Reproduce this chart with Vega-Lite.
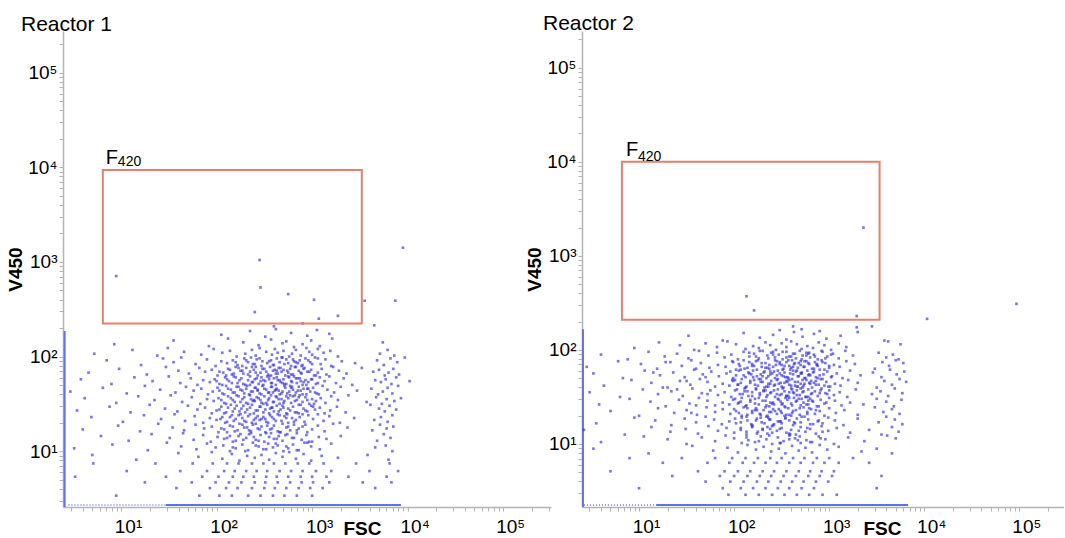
{
"$schema": "https://vega.github.io/schema/vega-lite/v6.json",
"padding": {"left": 6, "top": 13, "right": 0, "bottom": 0},
"bounds": "flush",
"spacing": 31,
"config": {
  "view": {"stroke": null},
  "font": "Liberation Sans",
  "axis": {"grid": false, "domainColor": "#b4b4b4", "domainWidth": 1.5, "tickColor": "#b4b4b4", "tickSize": 4, "labelColor": "#000000", "labelFont": "Liberation Sans", "labelFontSize": 19, "labelOverlap": false, "labelFlush": false, "titleFont": "Liberation Sans", "titleFontSize": 19, "titleFontWeight": "bold", "titleColor": "#000000"},
  "title": {"font": "Liberation Sans", "fontSize": 21, "fontWeight": "normal", "color": "#000000", "anchor": "start", "frame": "group", "offset": 0, "baseline": "alphabetic", "dy": 8}
},
"datasets": {
"g1": [{"x": 0.81, "x2": 3.52, "y": 3.97, "y2": 2.35}],
"g2": [{"x": 0.82, "x2": 3.53, "y": 4.0, "y2": 2.32}],
"l1": [{"x": 1.47, "x2": 3.93, "y": 0.43, "y2": 0.43, "k": "dense"}, {"x": 0.45, "x2": 1.47, "y": 0.43, "y2": 0.43, "k": "sparse"}, {"x": 0.41, "x2": 0.41, "y": 0.41, "y2": 2.27, "k": "dense"}],
"l2": [{"x": 1.18, "x2": 3.83, "y": 0.35, "y2": 0.35, "k": "dense"}, {"x": 0.42, "x2": 1.18, "y": 0.35, "y2": 0.35, "k": "sparse"}, {"x": 0.41, "x2": 0.41, "y": 0.33, "y2": 2.22, "k": "dense"}],
"p1": [
{"x":2.05,"y":2.23},{"x":2.35,"y":2.27},{"x":2.51,"y":2.21},{"x":2.62,"y":2.29},{"x":2.78,"y":2.25},{"x":2.95,"y":2.22},{"x":3.05,"y":2.28},{"x":3.18,"y":2.24},
{"x":0.93,"y":2.13},{"x":1.55,"y":2.17},{"x":1.92,"y":2.11},{"x":2.12,"y":2.19},{"x":2.28,"y":2.15},{"x":2.44,"y":2.12},{"x":2.57,"y":2.18},{"x":2.69,"y":2.14},{"x":2.73,"y":2.16},{"x":2.81,"y":2.1},{"x":2.9,"y":2.13},{"x":2.99,"y":2.17},{"x":3.08,"y":2.11},{"x":3.21,"y":2.19},{"x":3.74,"y":2.15},
{"x":0.72,"y":2.03},{"x":1.12,"y":2.07},{"x":1.38,"y":2.01},{"x":1.49,"y":2.09},{"x":1.66,"y":2.05},{"x":1.84,"y":2.02},{"x":1.97,"y":2.08},{"x":2.06,"y":2.04},{"x":2.14,"y":2.06},{"x":2.21,"y":2.0},{"x":2.3,"y":2.03},{"x":2.37,"y":2.07},{"x":2.41,"y":2.01},{"x":2.45,"y":2.09},{"x":2.52,"y":2.05},{"x":2.58,"y":2.02},{"x":2.61,"y":2.08},{"x":2.64,"y":2.04},{"x":2.7,"y":2.06},{"x":2.76,"y":2.0},{"x":2.79,"y":2.03},{"x":2.83,"y":2.07},{"x":2.88,"y":2.01},{"x":2.94,"y":2.09},{"x":2.97,"y":2.05},{"x":3.0,"y":2.02},{"x":3.06,"y":2.08},{"x":3.12,"y":2.04},{"x":3.19,"y":2.06},{"x":3.27,"y":2.0},{"x":3.71,"y":2.03},{"x":3.79,"y":2.07},{"x":3.86,"y":2.01},
{"x":0.85,"y":1.96},{"x":1.21,"y":1.91},{"x":1.44,"y":1.98},{"x":1.55,"y":1.94},{"x":1.63,"y":1.99},{"x":1.78,"y":1.92},{"x":1.9,"y":1.97},{"x":1.99,"y":1.9},{"x":2.05,"y":1.95},{"x":2.11,"y":1.93},
{"x":2.17,"y":1.96},{"x":2.22,"y":1.91},{"x":2.29,"y":1.98},{"x":2.33,"y":1.94},{"x":2.36,"y":1.99},{"x":2.38,"y":1.92},{"x":2.42,"y":1.97},{"x":2.47,"y":1.9},{"x":2.48,"y":1.95},{"x":2.53,"y":1.93},
{"x":2.57,"y":1.96},{"x":2.6,"y":1.91},{"x":2.63,"y":1.98},{"x":2.66,"y":1.94},{"x":2.69,"y":1.99},{"x":2.71,"y":1.92},{"x":2.73,"y":1.97},{"x":2.78,"y":1.9},{"x":2.81,"y":1.95},{"x":2.85,"y":1.93},
{"x":2.87,"y":1.96},{"x":2.9,"y":1.91},{"x":2.93,"y":1.98},{"x":2.98,"y":1.94},{"x":3.03,"y":1.99},{"x":3.09,"y":1.92},{"x":3.14,"y":1.97},{"x":3.2,"y":1.9},{"x":3.31,"y":1.95},{"x":3.45,"y":1.93},
{"x":3.68,"y":1.96},{"x":3.75,"y":1.91},{"x":3.82,"y":1.98},{"x":3.89,"y":1.94},{"x":3.97,"y":1.99},
{"x":0.66,"y":1.83},{"x":0.98,"y":1.87},{"x":1.27,"y":1.81},{"x":1.47,"y":1.89},{"x":1.6,"y":1.85},{"x":1.71,"y":1.82},{"x":1.82,"y":1.88},{"x":1.88,"y":1.84},{"x":1.95,"y":1.86},{"x":2.01,"y":1.8},
{"x":2.07,"y":1.83},{"x":2.12,"y":1.87},{"x":2.16,"y":1.81},{"x":2.2,"y":1.89},{"x":2.25,"y":1.85},{"x":2.28,"y":1.82},{"x":2.31,"y":1.88},{"x":2.35,"y":1.84},{"x":2.39,"y":1.86},{"x":2.43,"y":1.8},
{"x":2.46,"y":1.83},{"x":2.5,"y":1.87},{"x":2.54,"y":1.81},{"x":2.56,"y":1.89},{"x":2.59,"y":1.85},{"x":2.62,"y":1.82},{"x":2.65,"y":1.88},{"x":2.68,"y":1.84},{"x":2.7,"y":1.86},{"x":2.72,"y":1.8},
{"x":2.75,"y":1.83},{"x":2.77,"y":1.87},{"x":2.8,"y":1.81},{"x":2.83,"y":1.89},{"x":2.86,"y":1.85},{"x":2.89,"y":1.82},{"x":2.92,"y":1.88},{"x":2.95,"y":1.84},{"x":2.99,"y":1.86},{"x":3.02,"y":1.8},
{"x":3.06,"y":1.83},{"x":3.1,"y":1.87},{"x":3.15,"y":1.81},{"x":3.22,"y":1.89},{"x":3.28,"y":1.85},{"x":3.36,"y":1.82},{"x":3.52,"y":1.88},{"x":3.64,"y":1.84},{"x":3.7,"y":1.86},{"x":3.76,"y":1.8},
{"x":3.8,"y":1.83},{"x":3.85,"y":1.87},{"x":3.91,"y":1.81},{"x":2.41,"y":1.89},{"x":2.63,"y":1.85},
{"x":0.58,"y":1.76},{"x":0.9,"y":1.71},{"x":1.14,"y":1.78},{"x":1.33,"y":1.74},{"x":1.5,"y":1.79},{"x":1.62,"y":1.72},{"x":1.73,"y":1.77},{"x":1.8,"y":1.7},{"x":1.86,"y":1.75},{"x":1.93,"y":1.73},
{"x":1.98,"y":1.76},{"x":2.03,"y":1.71},{"x":2.09,"y":1.78},{"x":2.13,"y":1.74},{"x":2.18,"y":1.79},{"x":2.22,"y":1.72},{"x":2.26,"y":1.77},{"x":2.3,"y":1.7},{"x":2.33,"y":1.75},{"x":2.37,"y":1.73},
{"x":2.4,"y":1.76},{"x":2.44,"y":1.71},{"x":2.47,"y":1.78},{"x":2.51,"y":1.74},{"x":2.53,"y":1.79},{"x":2.57,"y":1.72},{"x":2.6,"y":1.77},{"x":2.62,"y":1.7},{"x":2.64,"y":1.75},{"x":2.67,"y":1.73},
{"x":2.7,"y":1.76},{"x":2.73,"y":1.71},{"x":2.76,"y":1.78},{"x":2.78,"y":1.74},{"x":2.81,"y":1.79},{"x":2.84,"y":1.72},{"x":2.87,"y":1.77},{"x":2.9,"y":1.7},{"x":2.93,"y":1.75},{"x":2.96,"y":1.73},
{"x":3.0,"y":1.76},{"x":3.04,"y":1.71},{"x":3.08,"y":1.78},{"x":3.13,"y":1.74},{"x":3.18,"y":1.79},{"x":3.25,"y":1.72},{"x":3.33,"y":1.77},{"x":3.42,"y":1.7},{"x":3.66,"y":1.75},{"x":3.72,"y":1.73},
{"x":3.77,"y":1.76},{"x":3.83,"y":1.71},{"x":3.88,"y":1.78},{"x":4.02,"y":1.74},{"x":2.55,"y":1.79},{"x":2.69,"y":1.72},{"x":2.85,"y":1.77},{"x":2.35,"y":1.7},{"x":2.49,"y":1.75},{"x":2.91,"y":1.73},
{"x":0.47,"y":1.63},{"x":0.81,"y":1.67},{"x":1.06,"y":1.61},{"x":1.25,"y":1.69},{"x":1.41,"y":1.65},{"x":1.57,"y":1.62},{"x":1.68,"y":1.68},{"x":1.76,"y":1.64},{"x":1.84,"y":1.66},{"x":1.91,"y":1.6},
{"x":1.96,"y":1.63},{"x":2.01,"y":1.67},{"x":2.06,"y":1.61},{"x":2.1,"y":1.69},{"x":2.15,"y":1.65},{"x":2.19,"y":1.62},{"x":2.23,"y":1.68},{"x":2.27,"y":1.64},{"x":2.31,"y":1.66},{"x":2.34,"y":1.6},
{"x":2.38,"y":1.63},{"x":2.41,"y":1.67},{"x":2.45,"y":1.61},{"x":2.48,"y":1.69},{"x":2.52,"y":1.65},{"x":2.55,"y":1.62},{"x":2.58,"y":1.68},{"x":2.61,"y":1.64},{"x":2.63,"y":1.66},{"x":2.66,"y":1.6},
{"x":2.69,"y":1.63},{"x":2.72,"y":1.67},{"x":2.74,"y":1.61},{"x":2.77,"y":1.69},{"x":2.8,"y":1.65},{"x":2.83,"y":1.62},{"x":2.86,"y":1.68},{"x":2.88,"y":1.64},{"x":2.91,"y":1.66},{"x":2.94,"y":1.6},
{"x":2.98,"y":1.63},{"x":3.01,"y":1.67},{"x":3.05,"y":1.61},{"x":3.11,"y":1.69},{"x":3.16,"y":1.65},{"x":3.23,"y":1.62},{"x":3.3,"y":1.68},{"x":3.47,"y":1.64},{"x":3.62,"y":1.66},{"x":3.69,"y":1.6},
{"x":3.74,"y":1.63},{"x":3.79,"y":1.67},{"x":3.84,"y":1.61},{"x":3.9,"y":1.69},{"x":2.43,"y":1.65},{"x":2.59,"y":1.62},{"x":2.79,"y":1.68},{"x":2.65,"y":1.64},{"x":2.96,"y":1.66},{"x":3.07,"y":1.6},
{"x":0.62,"y":1.56},{"x":0.95,"y":1.51},{"x":1.18,"y":1.58},{"x":1.35,"y":1.54},{"x":1.52,"y":1.59},{"x":1.64,"y":1.52},{"x":1.74,"y":1.57},{"x":1.83,"y":1.5},{"x":1.9,"y":1.55},{"x":1.97,"y":1.53},
{"x":2.02,"y":1.56},{"x":2.08,"y":1.51},{"x":2.12,"y":1.58},{"x":2.17,"y":1.54},{"x":2.21,"y":1.59},{"x":2.25,"y":1.52},{"x":2.29,"y":1.57},{"x":2.33,"y":1.5},{"x":2.36,"y":1.55},{"x":2.4,"y":1.53},
{"x":2.44,"y":1.56},{"x":2.47,"y":1.51},{"x":2.5,"y":1.58},{"x":2.54,"y":1.54},{"x":2.57,"y":1.59},{"x":2.6,"y":1.52},{"x":2.63,"y":1.57},{"x":2.66,"y":1.5},{"x":2.68,"y":1.55},{"x":2.71,"y":1.53},
{"x":2.75,"y":1.56},{"x":2.78,"y":1.51},{"x":2.8,"y":1.58},{"x":2.84,"y":1.54},{"x":2.87,"y":1.59},{"x":2.9,"y":1.52},{"x":2.93,"y":1.57},{"x":2.97,"y":1.5},{"x":3.0,"y":1.55},{"x":3.04,"y":1.53},
{"x":3.09,"y":1.56},{"x":3.14,"y":1.51},{"x":3.2,"y":1.58},{"x":3.27,"y":1.54},{"x":3.38,"y":1.59},{"x":3.57,"y":1.52},{"x":3.67,"y":1.57},{"x":3.73,"y":1.5},{"x":3.78,"y":1.55},{"x":3.86,"y":1.53},
{"x":3.93,"y":1.56},{"x":2.52,"y":1.51},{"x":2.73,"y":1.58},{"x":2.39,"y":1.54},{"x":2.82,"y":1.59},
{"x":0.54,"y":1.43},{"x":0.88,"y":1.47},{"x":1.1,"y":1.41},{"x":1.3,"y":1.49},{"x":1.46,"y":1.45},{"x":1.59,"y":1.42},{"x":1.7,"y":1.48},{"x":1.8,"y":1.44},{"x":1.88,"y":1.46},{"x":1.95,"y":1.4},
{"x":2.0,"y":1.43},{"x":2.05,"y":1.47},{"x":2.1,"y":1.41},{"x":2.15,"y":1.49},{"x":2.19,"y":1.45},{"x":2.24,"y":1.42},{"x":2.28,"y":1.48},{"x":2.32,"y":1.44},{"x":2.35,"y":1.46},{"x":2.39,"y":1.4},
{"x":2.43,"y":1.43},{"x":2.46,"y":1.47},{"x":2.49,"y":1.41},{"x":2.53,"y":1.49},{"x":2.56,"y":1.45},{"x":2.6,"y":1.42},{"x":2.63,"y":1.48},{"x":2.67,"y":1.44},{"x":2.7,"y":1.46},{"x":2.73,"y":1.4},
{"x":2.77,"y":1.43},{"x":2.8,"y":1.47},{"x":2.84,"y":1.41},{"x":2.88,"y":1.49},{"x":2.91,"y":1.45},{"x":2.95,"y":1.42},{"x":2.99,"y":1.48},{"x":3.03,"y":1.44},{"x":3.08,"y":1.46},{"x":3.13,"y":1.4},
{"x":3.19,"y":1.43},{"x":3.26,"y":1.47},{"x":3.35,"y":1.41},{"x":3.61,"y":1.49},{"x":3.7,"y":1.45},{"x":3.76,"y":1.42},{"x":3.81,"y":1.48},{"x":3.88,"y":1.44},{"x":2.58,"y":1.46},{"x":2.86,"y":1.4},
{"x":0.69,"y":1.36},{"x":1.02,"y":1.31},{"x":1.24,"y":1.38},{"x":1.42,"y":1.34},{"x":1.56,"y":1.39},{"x":1.67,"y":1.32},{"x":1.77,"y":1.37},{"x":1.86,"y":1.3},{"x":1.93,"y":1.35},{"x":2.0,"y":1.33},
{"x":2.06,"y":1.36},{"x":2.11,"y":1.31},{"x":2.16,"y":1.38},{"x":2.2,"y":1.34},{"x":2.25,"y":1.39},{"x":2.29,"y":1.32},{"x":2.33,"y":1.37},{"x":2.37,"y":1.3},{"x":2.41,"y":1.35},{"x":2.45,"y":1.33},
{"x":2.49,"y":1.36},{"x":2.52,"y":1.31},{"x":2.56,"y":1.38},{"x":2.6,"y":1.34},{"x":2.64,"y":1.39},{"x":2.68,"y":1.32},{"x":2.71,"y":1.37},{"x":2.75,"y":1.3},{"x":2.79,"y":1.35},{"x":2.83,"y":1.33},
{"x":2.87,"y":1.36},{"x":2.92,"y":1.31},{"x":2.96,"y":1.38},{"x":3.01,"y":1.34},{"x":3.06,"y":1.39},{"x":3.12,"y":1.32},{"x":3.18,"y":1.37},{"x":3.29,"y":1.3},{"x":3.44,"y":1.35},{"x":3.65,"y":1.33},
{"x":3.72,"y":1.36},{"x":3.79,"y":1.31},{"x":3.84,"y":1.38},{"x":2.47,"y":1.34},{"x":2.74,"y":1.39},
{"x":0.6,"y":1.23},{"x":0.97,"y":1.27},{"x":1.2,"y":1.21},{"x":1.39,"y":1.29},{"x":1.54,"y":1.25},{"x":1.66,"y":1.22},{"x":1.78,"y":1.28},{"x":1.87,"y":1.24},{"x":1.95,"y":1.26},{"x":2.02,"y":1.2},
{"x":2.08,"y":1.23},{"x":2.14,"y":1.27},{"x":2.19,"y":1.21},{"x":2.24,"y":1.29},{"x":2.29,"y":1.25},{"x":2.34,"y":1.22},{"x":2.38,"y":1.28},{"x":2.43,"y":1.24},{"x":2.47,"y":1.26},{"x":2.51,"y":1.2},
{"x":2.56,"y":1.23},{"x":2.6,"y":1.27},{"x":2.64,"y":1.21},{"x":2.69,"y":1.29},{"x":2.73,"y":1.25},{"x":2.77,"y":1.22},{"x":2.81,"y":1.28},{"x":2.86,"y":1.24},{"x":2.9,"y":1.26},{"x":2.95,"y":1.2},
{"x":3.0,"y":1.23},{"x":3.06,"y":1.27},{"x":3.13,"y":1.21},{"x":3.22,"y":1.29},{"x":3.37,"y":1.25},{"x":3.63,"y":1.22},{"x":3.71,"y":1.28},{"x":3.78,"y":1.24},{"x":3.85,"y":1.26},{"x":2.66,"y":1.2},
{"x":0.79,"y":1.16},{"x":1.08,"y":1.11},{"x":1.32,"y":1.18},{"x":1.51,"y":1.14},{"x":1.65,"y":1.19},{"x":1.76,"y":1.12},{"x":1.86,"y":1.17},{"x":1.94,"y":1.1},{"x":2.01,"y":1.15},{"x":2.08,"y":1.13},
{"x":2.14,"y":1.16},{"x":2.2,"y":1.11},{"x":2.25,"y":1.18},{"x":2.31,"y":1.14},{"x":2.36,"y":1.19},{"x":2.41,"y":1.12},{"x":2.46,"y":1.17},{"x":2.5,"y":1.1},{"x":2.55,"y":1.15},{"x":2.6,"y":1.13},
{"x":2.65,"y":1.16},{"x":2.69,"y":1.11},{"x":2.74,"y":1.18},{"x":2.79,"y":1.14},{"x":2.84,"y":1.19},{"x":2.89,"y":1.12},{"x":2.94,"y":1.17},{"x":3.0,"y":1.1},{"x":3.07,"y":1.15},{"x":3.15,"y":1.13},
{"x":3.3,"y":1.16},{"x":3.68,"y":1.11},{"x":3.75,"y":1.18},{"x":3.82,"y":1.14},{"x":2.57,"y":1.19},
{"x":0.51,"y":1.03},{"x":0.91,"y":1.07},{"x":1.28,"y":1.01},{"x":1.48,"y":1.09},{"x":1.63,"y":1.05},{"x":1.79,"y":1.02},{"x":1.9,"y":1.08},{"x":1.99,"y":1.04},{"x":2.07,"y":1.06},{"x":2.14,"y":1.0},
{"x":2.2,"y":1.03},{"x":2.27,"y":1.07},{"x":2.33,"y":1.01},{"x":2.38,"y":1.09},{"x":2.44,"y":1.05},{"x":2.49,"y":1.02},{"x":2.54,"y":1.08},{"x":2.59,"y":1.04},{"x":2.64,"y":1.06},{"x":2.7,"y":1.0},
{"x":2.75,"y":1.03},{"x":2.8,"y":1.07},{"x":2.86,"y":1.01},{"x":2.92,"y":1.09},{"x":2.99,"y":1.05},{"x":3.08,"y":1.02},{"x":3.2,"y":1.08},{"x":3.66,"y":1.04},{"x":3.77,"y":1.06},{"x":3.84,"y":1.0},
{"x":0.7,"y":0.96},{"x":1.16,"y":0.91},{"x":1.6,"y":0.98},{"x":1.81,"y":0.94},{"x":1.95,"y":0.99},{"x":2.06,"y":0.92},{"x":2.16,"y":0.97},{"x":2.24,"y":0.9},{"x":2.32,"y":0.95},{"x":2.4,"y":0.93},
{"x":2.47,"y":0.96},{"x":2.55,"y":0.91},{"x":2.62,"y":0.98},{"x":2.69,"y":0.94},{"x":2.76,"y":0.99},{"x":2.83,"y":0.92},{"x":2.91,"y":0.97},{"x":2.99,"y":0.9},{"x":3.1,"y":0.95},{"x":3.27,"y":0.93},
{"x":3.58,"y":0.96},{"x":3.8,"y":0.91},
{"x":0.71,"y":0.87},{"x":1.36,"y":0.87},{"x":1.75,"y":0.87},{"x":1.96,"y":0.87},{"x":2.11,"y":0.87},{"x":2.23,"y":0.87},{"x":2.37,"y":0.87},{"x":2.49,"y":0.87},{"x":2.6,"y":0.87},{"x":2.72,"y":0.87},{"x":2.85,"y":0.87},{"x":2.97,"y":0.87},{"x":3.12,"y":0.87},{"x":3.46,"y":0.87},{"x":3.81,"y":0.87},
{"x":1.06,"y":0.79},{"x":1.62,"y":0.79},{"x":1.9,"y":0.79},{"x":2.08,"y":0.79},{"x":2.19,"y":0.79},{"x":2.31,"y":0.79},{"x":2.42,"y":0.79},{"x":2.53,"y":0.79},{"x":2.66,"y":0.79},{"x":2.78,"y":0.79},{"x":2.9,"y":0.79},{"x":3.04,"y":0.79},{"x":3.2,"y":0.79},{"x":3.6,"y":0.79},{"x":3.9,"y":0.79},
{"x":0.52,"y":0.73},{"x":1.47,"y":0.73},{"x":1.85,"y":0.73},{"x":2.02,"y":0.73},{"x":2.17,"y":0.73},{"x":2.28,"y":0.73},{"x":2.39,"y":0.73},{"x":2.52,"y":0.73},{"x":2.63,"y":0.73},{"x":2.75,"y":0.73},{"x":2.88,"y":0.73},{"x":3.0,"y":0.73},{"x":3.15,"y":0.73},{"x":3.38,"y":0.73},{"x":3.78,"y":0.73},
{"x":1.25,"y":0.67},{"x":1.74,"y":0.67},{"x":1.99,"y":0.67},{"x":2.13,"y":0.67},{"x":2.26,"y":0.67},{"x":2.4,"y":0.67},{"x":2.51,"y":0.67},{"x":2.64,"y":0.67},{"x":2.77,"y":0.67},{"x":2.89,"y":0.67},{"x":3.01,"y":0.67},{"x":3.18,"y":0.67},{"x":3.53,"y":0.67},{"x":3.83,"y":0.67},
{"x":1.58,"y":0.61},{"x":1.93,"y":0.61},{"x":2.1,"y":0.61},{"x":2.22,"y":0.61},{"x":2.37,"y":0.61},{"x":2.5,"y":0.61},{"x":2.61,"y":0.61},{"x":2.73,"y":0.61},{"x":2.86,"y":0.61},{"x":2.98,"y":0.61},{"x":3.11,"y":0.61},{"x":3.66,"y":0.61},
{"x":0.95,"y":0.53},{"x":1.82,"y":0.53},{"x":2.03,"y":0.53},{"x":2.16,"y":0.53},{"x":2.33,"y":0.53},{"x":2.46,"y":0.53},{"x":2.59,"y":0.53},{"x":2.71,"y":0.53},{"x":2.84,"y":0.53},{"x":3.0,"y":0.53},
{"x":0.95,"y":2.85},{"x":2.46,"y":2.73},{"x":2.75,"y":2.66},{"x":3.02,"y":2.6},{"x":2.4,"y":2.47},{"x":3.27,"y":2.43},{"x":3.07,"y":2.4},{"x":3.55,"y":2.59},{"x":3.87,"y":2.59},{"x":3.65,"y":2.33},{"x":2.45,"y":3.02},{"x":3.95,"y":3.15},{"x":2.6,"y":2.32},{"x":2.9,"y":2.35},
{"x":2.2,"y":1.94},{"x":2.27,"y":1.9},{"x":2.31,"y":1.96},{"x":2.4,"y":1.92},{"x":2.45,"y":1.98},{"x":2.55,"y":1.95},{"x":2.59,"y":1.91},{"x":2.68,"y":1.99},{"x":2.75,"y":1.93},{"x":2.8,"y":1.97},{"x":2.83,"y":1.94},{"x":2.89,"y":1.9},{"x":2.96,"y":1.96},{"x":3.0,"y":1.92},{"x":3.06,"y":1.98},
{"x":2.03,"y":1.84},{"x":2.1,"y":1.8},{"x":2.14,"y":1.86},{"x":2.18,"y":1.82},{"x":2.23,"y":1.88},{"x":2.27,"y":1.85},{"x":2.33,"y":1.81},{"x":2.37,"y":1.89},{"x":2.41,"y":1.83},{"x":2.48,"y":1.87},{"x":2.52,"y":1.84},{"x":2.57,"y":1.8},{"x":2.61,"y":1.86},{"x":2.64,"y":1.82},{"x":2.67,"y":1.88},{"x":2.74,"y":1.85},{"x":2.78,"y":1.81},{"x":2.82,"y":1.89},{"x":2.88,"y":1.83},{"x":2.91,"y":1.87},{"x":2.97,"y":1.84},{"x":3.04,"y":1.8},
{"x":2.0,"y":1.74},{"x":2.06,"y":1.7},{"x":2.11,"y":1.76},{"x":2.16,"y":1.72},{"x":2.2,"y":1.78},{"x":2.24,"y":1.75},{"x":2.28,"y":1.71},{"x":2.35,"y":1.79},{"x":2.38,"y":1.73},{"x":2.42,"y":1.77},{"x":2.46,"y":1.74},{"x":2.49,"y":1.7},{"x":2.55,"y":1.76},{"x":2.58,"y":1.72},{"x":2.63,"y":1.78},{"x":2.66,"y":1.75},{"x":2.71,"y":1.71},{"x":2.75,"y":1.79},{"x":2.79,"y":1.73},{"x":2.83,"y":1.77},{"x":2.88,"y":1.74},{"x":2.94,"y":1.7},{"x":2.99,"y":1.76},{"x":3.06,"y":1.72},
{"x":2.03,"y":1.64},{"x":2.08,"y":1.6},{"x":2.12,"y":1.66},{"x":2.17,"y":1.62},{"x":2.21,"y":1.68},{"x":2.25,"y":1.65},{"x":2.29,"y":1.61},{"x":2.32,"y":1.69},{"x":2.36,"y":1.63},{"x":2.4,"y":1.67},{"x":2.43,"y":1.64},{"x":2.47,"y":1.6},{"x":2.5,"y":1.66},{"x":2.54,"y":1.62},{"x":2.57,"y":1.68},{"x":2.62,"y":1.65},{"x":2.68,"y":1.61},{"x":2.71,"y":1.69},{"x":2.76,"y":1.63},{"x":2.78,"y":1.67},{"x":2.85,"y":1.64},{"x":2.9,"y":1.6},{"x":2.95,"y":1.66},{"x":3.03,"y":1.62},
{"x":2.05,"y":1.54},{"x":2.1,"y":1.5},{"x":2.15,"y":1.56},{"x":2.19,"y":1.52},{"x":2.23,"y":1.58},{"x":2.27,"y":1.55},{"x":2.31,"y":1.51},{"x":2.35,"y":1.59},{"x":2.38,"y":1.53},{"x":2.42,"y":1.57},{"x":2.46,"y":1.54},{"x":2.49,"y":1.5},{"x":2.55,"y":1.56},{"x":2.59,"y":1.52},{"x":2.62,"y":1.58},{"x":2.65,"y":1.55},{"x":2.7,"y":1.51},{"x":2.77,"y":1.59},{"x":2.82,"y":1.53},{"x":2.86,"y":1.57},{"x":2.95,"y":1.54},{"x":3.02,"y":1.5},
{"x":2.03,"y":1.44},{"x":2.08,"y":1.4},{"x":2.12,"y":1.46},{"x":2.17,"y":1.42},{"x":2.21,"y":1.48},{"x":2.26,"y":1.45},{"x":2.3,"y":1.41},{"x":2.37,"y":1.49},{"x":2.41,"y":1.43},{"x":2.45,"y":1.47},{"x":2.51,"y":1.44},{"x":2.55,"y":1.4},{"x":2.58,"y":1.46},{"x":2.65,"y":1.42},{"x":2.69,"y":1.48},{"x":2.75,"y":1.45},{"x":2.82,"y":1.41},{"x":2.86,"y":1.49},{"x":2.93,"y":1.43},{"x":3.01,"y":1.47},
{"x":2.04,"y":1.34},{"x":2.09,"y":1.3},{"x":2.14,"y":1.36},{"x":2.18,"y":1.32},{"x":2.23,"y":1.38},{"x":2.27,"y":1.35},{"x":2.31,"y":1.31},{"x":2.35,"y":1.39},{"x":2.39,"y":1.33},{"x":2.43,"y":1.37},{"x":2.51,"y":1.34},{"x":2.54,"y":1.3},{"x":2.58,"y":1.36},{"x":2.62,"y":1.32},{"x":2.66,"y":1.38},{"x":2.73,"y":1.35},{"x":2.81,"y":1.31},{"x":2.9,"y":1.39},
{"x":2.05,"y":1.24},{"x":2.11,"y":1.2},{"x":2.17,"y":1.26},{"x":2.22,"y":1.22},{"x":2.27,"y":1.28},{"x":2.32,"y":1.25},{"x":2.36,"y":1.21},{"x":2.41,"y":1.29},{"x":2.45,"y":1.23},{"x":2.53,"y":1.27},{"x":2.58,"y":1.24},{"x":2.67,"y":1.2},{"x":2.75,"y":1.26},{"x":2.84,"y":1.22},{"x":2.93,"y":1.28},
{"x":2.11,"y":1.14},{"x":2.17,"y":1.1},{"x":2.23,"y":1.16},{"x":2.28,"y":1.12},{"x":2.34,"y":1.18},{"x":2.39,"y":1.15},{"x":2.44,"y":1.11},{"x":2.52,"y":1.19},{"x":2.63,"y":1.13},{"x":2.72,"y":1.17},{"x":2.81,"y":1.14},{"x":2.97,"y":1.1},
{"x":2.17,"y":1.04},{"x":2.3,"y":1.0},{"x":2.41,"y":1.06},{"x":2.52,"y":1.02},{"x":2.62,"y":1.08},{"x":2.73,"y":1.05},{"x":2.84,"y":1.01},{"x":2.95,"y":1.09}
],
"p2": [
{"x":1.52,"y":2.15},{"x":1.88,"y":2.1},{"x":2.1,"y":2.18},{"x":2.27,"y":2.13},{"x":2.41,"y":2.16},{"x":2.55,"y":2.11},{"x":2.63,"y":2.19},{"x":2.72,"y":2.14},{"x":2.84,"y":2.17},{"x":2.97,"y":2.12},{"x":3.12,"y":2.15},{"x":3.58,"y":2.1},
{"x":2.48,"y":2.21},{"x":2.71,"y":2.22},{"x":2.9,"y":2.2},{"x":3.29,"y":2.24},{"x":3.3,"y":2.19},
{"x":0.95,"y":2.02},{"x":1.21,"y":2.08},{"x":1.43,"y":2.05},{"x":1.58,"y":2.0},{"x":1.7,"y":2.07},{"x":1.82,"y":2.03},{"x":1.93,"y":2.09},{"x":2.02,"y":2.06},{"x":2.12,"y":2.01},{"x":2.2,"y":2.04},
{"x":2.26,"y":2.02},{"x":2.33,"y":2.08},{"x":2.38,"y":2.05},{"x":2.44,"y":2.0},{"x":2.5,"y":2.07},{"x":2.55,"y":2.03},{"x":2.6,"y":2.09},{"x":2.66,"y":2.06},{"x":2.71,"y":2.01},{"x":2.77,"y":2.04},
{"x":2.83,"y":2.02},{"x":2.89,"y":2.08},{"x":2.95,"y":2.05},{"x":3.02,"y":2.0},{"x":3.1,"y":2.07},{"x":3.18,"y":2.03},{"x":3.62,"y":2.09},{"x":3.75,"y":2.06},
{"x":0.6,"y":1.95},{"x":0.88,"y":1.9},{"x":1.1,"y":1.98},{"x":1.27,"y":1.93},{"x":1.4,"y":1.96},{"x":1.52,"y":1.91},{"x":1.63,"y":1.99},{"x":1.73,"y":1.94},{"x":1.82,"y":1.97},{"x":1.9,"y":1.92},
{"x":1.97,"y":1.95},{"x":2.04,"y":1.9},{"x":2.1,"y":1.98},{"x":2.16,"y":1.93},{"x":2.21,"y":1.96},{"x":2.26,"y":1.91},{"x":2.3,"y":1.99},{"x":2.35,"y":1.94},{"x":2.39,"y":1.97},{"x":2.43,"y":1.92},
{"x":2.47,"y":1.95},{"x":2.51,"y":1.9},{"x":2.55,"y":1.98},{"x":2.58,"y":1.93},{"x":2.62,"y":1.96},{"x":2.65,"y":1.91},{"x":2.69,"y":1.99},{"x":2.72,"y":1.94},{"x":2.76,"y":1.97},{"x":2.8,"y":1.92},
{"x":2.84,"y":1.95},{"x":2.88,"y":1.9},{"x":2.93,"y":1.98},{"x":2.98,"y":1.93},{"x":3.04,"y":1.96},{"x":3.1,"y":1.91},{"x":3.17,"y":1.99},{"x":3.25,"y":1.94},{"x":3.52,"y":1.97},{"x":3.6,"y":1.92},
{"x":3.67,"y":1.95},{"x":3.73,"y":1.9},{"x":2.41,"y":1.98},{"x":2.6,"y":1.93},{"x":2.78,"y":1.96},
{"x":0.45,"y":1.82},{"x":0.78,"y":1.88},{"x":1.02,"y":1.85},{"x":1.19,"y":1.8},{"x":1.33,"y":1.87},{"x":1.45,"y":1.83},{"x":1.55,"y":1.89},{"x":1.65,"y":1.86},{"x":1.74,"y":1.81},{"x":1.83,"y":1.84},
{"x":1.91,"y":1.82},{"x":1.98,"y":1.88},{"x":2.05,"y":1.85},{"x":2.11,"y":1.8},{"x":2.16,"y":1.87},{"x":2.21,"y":1.83},{"x":2.25,"y":1.89},{"x":2.29,"y":1.86},{"x":2.33,"y":1.81},{"x":2.37,"y":1.84},
{"x":2.41,"y":1.82},{"x":2.45,"y":1.88},{"x":2.48,"y":1.85},{"x":2.52,"y":1.8},{"x":2.55,"y":1.87},{"x":2.58,"y":1.83},{"x":2.61,"y":1.89},{"x":2.64,"y":1.86},{"x":2.67,"y":1.81},{"x":2.7,"y":1.84},
{"x":2.73,"y":1.82},{"x":2.76,"y":1.88},{"x":2.79,"y":1.85},{"x":2.82,"y":1.8},{"x":2.85,"y":1.87},{"x":2.88,"y":1.83},{"x":2.92,"y":1.89},{"x":2.96,"y":1.86},{"x":3.0,"y":1.81},{"x":3.05,"y":1.84},
{"x":3.11,"y":1.82},{"x":3.18,"y":1.88},{"x":3.27,"y":1.85},{"x":3.48,"y":1.8},{"x":3.56,"y":1.87},{"x":3.63,"y":1.83},{"x":3.7,"y":1.89},{"x":3.78,"y":1.86},{"x":2.35,"y":1.81},{"x":2.5,"y":1.84},
{"x":2.62,"y":1.82},{"x":2.74,"y":1.88},{"x":2.87,"y":1.85},{"x":1.6,"y":1.8},{"x":1.28,"y":1.87},{"x":2.19,"y":1.83},{"x":2.43,"y":1.89},{"x":2.68,"y":1.86},
{"x":0.52,"y":1.75},{"x":0.83,"y":1.7},{"x":1.06,"y":1.78},{"x":1.22,"y":1.73},{"x":1.36,"y":1.76},{"x":1.48,"y":1.71},{"x":1.58,"y":1.79},{"x":1.67,"y":1.74},{"x":1.76,"y":1.77},{"x":1.84,"y":1.72},
{"x":1.92,"y":1.75},{"x":1.99,"y":1.7},{"x":2.05,"y":1.78},{"x":2.1,"y":1.73},{"x":2.15,"y":1.76},{"x":2.2,"y":1.71},{"x":2.24,"y":1.79},{"x":2.28,"y":1.74},{"x":2.32,"y":1.77},{"x":2.36,"y":1.72},
{"x":2.4,"y":1.75},{"x":2.43,"y":1.7},{"x":2.46,"y":1.78},{"x":2.5,"y":1.73},{"x":2.53,"y":1.76},{"x":2.56,"y":1.71},{"x":2.59,"y":1.79},{"x":2.62,"y":1.74},{"x":2.65,"y":1.77},{"x":2.68,"y":1.72},
{"x":2.71,"y":1.75},{"x":2.74,"y":1.7},{"x":2.77,"y":1.78},{"x":2.8,"y":1.73},{"x":2.83,"y":1.76},{"x":2.86,"y":1.71},{"x":2.9,"y":1.79},{"x":2.94,"y":1.74},{"x":2.98,"y":1.77},{"x":3.03,"y":1.72},
{"x":3.08,"y":1.75},{"x":3.14,"y":1.7},{"x":3.22,"y":1.78},{"x":3.33,"y":1.73},{"x":3.46,"y":1.76},{"x":3.55,"y":1.71},{"x":3.64,"y":1.79},{"x":3.71,"y":1.74},{"x":3.79,"y":1.77},{"x":2.3,"y":1.72},
{"x":2.48,"y":1.75},{"x":2.57,"y":1.7},{"x":2.66,"y":1.78},{"x":2.78,"y":1.73},{"x":1.15,"y":1.76},{"x":1.7,"y":1.71},{"x":2.02,"y":1.79},{"x":2.18,"y":1.74},{"x":2.38,"y":1.77},{"x":2.52,"y":1.72},
{"x":2.7,"y":1.75},{"x":2.88,"y":1.7},
{"x":0.63,"y":1.62},{"x":0.92,"y":1.68},{"x":1.13,"y":1.65},{"x":1.3,"y":1.6},{"x":1.43,"y":1.67},{"x":1.54,"y":1.63},{"x":1.64,"y":1.69},{"x":1.72,"y":1.66},{"x":1.8,"y":1.61},{"x":1.88,"y":1.64},
{"x":1.95,"y":1.62},{"x":2.01,"y":1.68},{"x":2.07,"y":1.65},{"x":2.12,"y":1.6},{"x":2.17,"y":1.67},{"x":2.22,"y":1.63},{"x":2.26,"y":1.69},{"x":2.3,"y":1.66},{"x":2.34,"y":1.61},{"x":2.38,"y":1.64},
{"x":2.42,"y":1.62},{"x":2.45,"y":1.68},{"x":2.49,"y":1.65},{"x":2.52,"y":1.6},{"x":2.55,"y":1.67},{"x":2.58,"y":1.63},{"x":2.61,"y":1.69},{"x":2.64,"y":1.66},{"x":2.67,"y":1.61},{"x":2.7,"y":1.64},
{"x":2.73,"y":1.62},{"x":2.76,"y":1.68},{"x":2.79,"y":1.65},{"x":2.82,"y":1.6},{"x":2.86,"y":1.67},{"x":2.89,"y":1.63},{"x":2.93,"y":1.69},{"x":2.97,"y":1.66},{"x":3.01,"y":1.61},{"x":3.06,"y":1.64},
{"x":3.12,"y":1.62},{"x":3.2,"y":1.68},{"x":3.3,"y":1.65},{"x":3.5,"y":1.6},{"x":3.58,"y":1.67},{"x":3.66,"y":1.63},{"x":3.74,"y":1.69},{"x":3.81,"y":1.66},{"x":2.36,"y":1.61},{"x":2.47,"y":1.64},
{"x":2.6,"y":1.62},{"x":2.72,"y":1.68},{"x":2.84,"y":1.65},{"x":1.25,"y":1.6},{"x":1.5,"y":1.67},{"x":2.04,"y":1.63},{"x":2.28,"y":1.69},{"x":2.56,"y":1.66},{"x":2.66,"y":1.61},{"x":2.8,"y":1.64},
{"x":2.95,"y":1.62},{"x":1.98,"y":1.68},
{"x":0.48,"y":1.55},{"x":0.8,"y":1.5},{"x":1.04,"y":1.58},{"x":1.2,"y":1.53},{"x":1.34,"y":1.56},{"x":1.46,"y":1.51},{"x":1.56,"y":1.59},{"x":1.66,"y":1.54},{"x":1.75,"y":1.57},{"x":1.83,"y":1.52},
{"x":1.9,"y":1.55},{"x":1.97,"y":1.5},{"x":2.03,"y":1.58},{"x":2.09,"y":1.53},{"x":2.14,"y":1.56},{"x":2.19,"y":1.51},{"x":2.23,"y":1.59},{"x":2.27,"y":1.54},{"x":2.31,"y":1.57},{"x":2.35,"y":1.52},
{"x":2.39,"y":1.55},{"x":2.43,"y":1.5},{"x":2.46,"y":1.58},{"x":2.5,"y":1.53},{"x":2.53,"y":1.56},{"x":2.57,"y":1.51},{"x":2.6,"y":1.59},{"x":2.63,"y":1.54},{"x":2.66,"y":1.57},{"x":2.69,"y":1.52},
{"x":2.72,"y":1.55},{"x":2.75,"y":1.5},{"x":2.78,"y":1.58},{"x":2.81,"y":1.53},{"x":2.85,"y":1.56},{"x":2.88,"y":1.51},{"x":2.92,"y":1.59},{"x":2.96,"y":1.54},{"x":3.0,"y":1.57},{"x":3.05,"y":1.52},
{"x":3.11,"y":1.55},{"x":3.19,"y":1.5},{"x":3.28,"y":1.58},{"x":3.45,"y":1.53},{"x":3.54,"y":1.56},{"x":3.62,"y":1.51},{"x":3.69,"y":1.59},{"x":3.77,"y":1.54},{"x":2.33,"y":1.57},{"x":2.48,"y":1.52},
{"x":2.62,"y":1.55},{"x":2.76,"y":1.5},{"x":1.4,"y":1.58},{"x":1.72,"y":1.53},{"x":2.11,"y":1.56},{"x":2.55,"y":1.51},{"x":2.7,"y":1.59},{"x":2.9,"y":1.54},
{"x":0.58,"y":1.42},{"x":0.9,"y":1.48},{"x":1.12,"y":1.45},{"x":1.28,"y":1.4},{"x":1.42,"y":1.47},{"x":1.53,"y":1.43},{"x":1.63,"y":1.49},{"x":1.72,"y":1.46},{"x":1.8,"y":1.41},{"x":1.88,"y":1.44},
{"x":1.95,"y":1.42},{"x":2.01,"y":1.48},{"x":2.07,"y":1.45},{"x":2.12,"y":1.4},{"x":2.17,"y":1.47},{"x":2.22,"y":1.43},{"x":2.26,"y":1.49},{"x":2.3,"y":1.46},{"x":2.34,"y":1.41},{"x":2.38,"y":1.44},
{"x":2.42,"y":1.42},{"x":2.46,"y":1.48},{"x":2.49,"y":1.45},{"x":2.53,"y":1.4},{"x":2.56,"y":1.47},{"x":2.6,"y":1.43},{"x":2.63,"y":1.49},{"x":2.66,"y":1.46},{"x":2.7,"y":1.41},{"x":2.73,"y":1.44},
{"x":2.76,"y":1.42},{"x":2.8,"y":1.48},{"x":2.83,"y":1.45},{"x":2.87,"y":1.4},{"x":2.91,"y":1.47},{"x":2.95,"y":1.43},{"x":3.0,"y":1.49},{"x":3.06,"y":1.46},{"x":3.13,"y":1.41},{"x":3.22,"y":1.44},
{"x":3.36,"y":1.42},{"x":3.5,"y":1.48},{"x":3.6,"y":1.45},{"x":3.68,"y":1.4},{"x":3.76,"y":1.47},{"x":2.4,"y":1.43},{"x":2.58,"y":1.49},{"x":2.78,"y":1.46},{"x":1.6,"y":1.41},{"x":2.05,"y":1.44},
{"x":2.5,"y":1.42},{"x":2.68,"y":1.48},
{"x":0.7,"y":1.35},{"x":1.0,"y":1.3},{"x":1.2,"y":1.38},{"x":1.37,"y":1.33},{"x":1.5,"y":1.36},{"x":1.61,"y":1.31},{"x":1.71,"y":1.39},{"x":1.8,"y":1.34},{"x":1.88,"y":1.37},{"x":1.96,"y":1.32},
{"x":2.02,"y":1.35},{"x":2.08,"y":1.3},{"x":2.14,"y":1.38},{"x":2.19,"y":1.33},{"x":2.24,"y":1.36},{"x":2.28,"y":1.31},{"x":2.33,"y":1.39},{"x":2.37,"y":1.34},{"x":2.41,"y":1.37},{"x":2.45,"y":1.32},
{"x":2.49,"y":1.35},{"x":2.53,"y":1.3},{"x":2.57,"y":1.38},{"x":2.61,"y":1.33},{"x":2.65,"y":1.36},{"x":2.69,"y":1.31},{"x":2.73,"y":1.39},{"x":2.77,"y":1.34},{"x":2.81,"y":1.37},{"x":2.85,"y":1.32},
{"x":2.9,"y":1.35},{"x":2.95,"y":1.3},{"x":3.0,"y":1.38},{"x":3.07,"y":1.33},{"x":3.16,"y":1.36},{"x":3.3,"y":1.31},{"x":3.48,"y":1.39},{"x":3.57,"y":1.34},{"x":3.66,"y":1.37},{"x":3.74,"y":1.32},
{"x":2.43,"y":1.35},{"x":2.6,"y":1.3},{"x":2.79,"y":1.38},{"x":1.55,"y":1.33},{"x":2.22,"y":1.36},{"x":2.55,"y":1.31},
{"x":0.55,"y":1.22},{"x":0.95,"y":1.28},{"x":1.17,"y":1.25},{"x":1.34,"y":1.2},{"x":1.48,"y":1.27},{"x":1.6,"y":1.23},{"x":1.7,"y":1.29},{"x":1.79,"y":1.26},{"x":1.87,"y":1.21},{"x":1.95,"y":1.24},
{"x":2.02,"y":1.22},{"x":2.08,"y":1.28},{"x":2.14,"y":1.25},{"x":2.19,"y":1.2},{"x":2.24,"y":1.27},{"x":2.29,"y":1.23},{"x":2.34,"y":1.29},{"x":2.38,"y":1.26},{"x":2.42,"y":1.21},{"x":2.46,"y":1.24},
{"x":2.5,"y":1.22},{"x":2.54,"y":1.28},{"x":2.58,"y":1.25},{"x":2.62,"y":1.2},{"x":2.66,"y":1.27},{"x":2.7,"y":1.23},{"x":2.74,"y":1.29},{"x":2.78,"y":1.26},{"x":2.83,"y":1.21},{"x":2.88,"y":1.24},
{"x":2.93,"y":1.22},{"x":2.99,"y":1.28},{"x":3.06,"y":1.25},{"x":3.15,"y":1.2},{"x":3.3,"y":1.27},{"x":3.52,"y":1.23},{"x":3.6,"y":1.29},{"x":3.69,"y":1.26},{"x":3.77,"y":1.21},{"x":2.48,"y":1.24},
{"x":2.64,"y":1.22},{"x":2.36,"y":1.28},
{"x":0.42,"y":1.15},{"x":0.85,"y":1.1},{"x":1.13,"y":1.18},{"x":1.33,"y":1.13},{"x":1.49,"y":1.16},{"x":1.62,"y":1.11},{"x":1.73,"y":1.19},{"x":1.83,"y":1.14},{"x":1.92,"y":1.17},{"x":2.0,"y":1.12},
{"x":2.07,"y":1.15},{"x":2.13,"y":1.1},{"x":2.19,"y":1.18},{"x":2.25,"y":1.13},{"x":2.3,"y":1.16},{"x":2.35,"y":1.11},{"x":2.4,"y":1.19},{"x":2.45,"y":1.14},{"x":2.5,"y":1.17},{"x":2.55,"y":1.12},
{"x":2.6,"y":1.15},{"x":2.65,"y":1.1},{"x":2.7,"y":1.18},{"x":2.75,"y":1.13},{"x":2.8,"y":1.16},{"x":2.86,"y":1.11},{"x":2.92,"y":1.19},{"x":2.99,"y":1.14},{"x":3.08,"y":1.17},{"x":3.22,"y":1.12},
{"x":3.42,"y":1.15},{"x":3.55,"y":1.1},{"x":3.66,"y":1.18},{"x":3.73,"y":1.13},{"x":2.38,"y":1.16},{"x":2.58,"y":1.11},
{"x":0.6,"y":1.02},{"x":1.05,"y":1.08},{"x":1.3,"y":1.05},{"x":1.5,"y":1.0},{"x":1.66,"y":1.07},{"x":1.8,"y":1.03},{"x":1.91,"y":1.09},{"x":2.0,"y":1.06},{"x":2.08,"y":1.01},{"x":2.15,"y":1.04},
{"x":2.22,"y":1.02},{"x":2.28,"y":1.08},{"x":2.34,"y":1.05},{"x":2.4,"y":1.0},{"x":2.46,"y":1.07},{"x":2.52,"y":1.03},{"x":2.58,"y":1.09},{"x":2.64,"y":1.06},{"x":2.7,"y":1.01},{"x":2.76,"y":1.04},
{"x":2.82,"y":1.02},{"x":2.89,"y":1.08},{"x":2.96,"y":1.05},{"x":3.05,"y":1.0},{"x":3.2,"y":1.07},{"x":3.37,"y":1.03},{"x":3.61,"y":1.09},{"x":3.7,"y":1.06},{"x":2.49,"y":1.01},{"x":2.67,"y":1.04},
{"x":0.52,"y":0.95},{"x":1.1,"y":0.9},{"x":1.56,"y":0.98},{"x":1.78,"y":0.93},{"x":1.93,"y":0.96},{"x":2.04,"y":0.91},{"x":2.14,"y":0.99},{"x":2.23,"y":0.94},{"x":2.31,"y":0.97},{"x":2.39,"y":0.92},
{"x":2.47,"y":0.95},{"x":2.54,"y":0.9},{"x":2.61,"y":0.98},{"x":2.68,"y":0.93},{"x":2.75,"y":0.96},{"x":2.82,"y":0.91},{"x":2.9,"y":0.99},{"x":2.98,"y":0.94},{"x":3.1,"y":0.97},{"x":3.34,"y":0.92},
{"x":3.5,"y":0.95},{"x":3.66,"y":0.9},
{"x":0.9,"y":0.85},{"x":1.45,"y":0.85},{"x":1.8,"y":0.85},{"x":1.98,"y":0.85},{"x":2.12,"y":0.85},{"x":2.25,"y":0.85},{"x":2.38,"y":0.85},{"x":2.5,"y":0.85},{"x":2.62,"y":0.85},{"x":2.74,"y":0.85},{"x":2.87,"y":0.85},{"x":3.0,"y":0.85},{"x":3.25,"y":0.85},
{"x":1.25,"y":0.8},{"x":1.72,"y":0.8},{"x":1.95,"y":0.8},{"x":2.09,"y":0.8},{"x":2.21,"y":0.8},{"x":2.33,"y":0.8},{"x":2.45,"y":0.8},{"x":2.58,"y":0.8},{"x":2.7,"y":0.8},{"x":2.83,"y":0.8},{"x":2.95,"y":0.8},{"x":3.1,"y":0.8},{"x":3.42,"y":0.8},
{"x":0.7,"y":0.71},{"x":1.62,"y":0.71},{"x":1.9,"y":0.71},{"x":2.04,"y":0.71},{"x":2.17,"y":0.71},{"x":2.3,"y":0.71},{"x":2.42,"y":0.71},{"x":2.55,"y":0.71},{"x":2.68,"y":0.71},{"x":2.8,"y":0.71},{"x":2.92,"y":0.71},{"x":3.05,"y":0.71},
{"x":1.35,"y":0.66},{"x":1.85,"y":0.66},{"x":2.0,"y":0.66},{"x":2.14,"y":0.66},{"x":2.27,"y":0.66},{"x":2.39,"y":0.66},{"x":2.52,"y":0.66},{"x":2.65,"y":0.66},{"x":2.78,"y":0.66},{"x":2.9,"y":0.66},{"x":3.03,"y":0.66},{"x":3.55,"y":0.66},
{"x":1.7,"y":0.6},{"x":1.96,"y":0.6},{"x":2.1,"y":0.6},{"x":2.24,"y":0.6},{"x":2.36,"y":0.6},{"x":2.49,"y":0.6},{"x":2.61,"y":0.6},{"x":2.73,"y":0.6},{"x":2.86,"y":0.6},{"x":2.99,"y":0.6},
{"x":1.0,"y":0.53},{"x":1.88,"y":0.53},{"x":2.07,"y":0.53},{"x":2.2,"y":0.53},{"x":2.33,"y":0.53},{"x":2.46,"y":0.53},{"x":2.58,"y":0.53},{"x":2.71,"y":0.53},{"x":2.84,"y":0.53},{"x":3.5,"y":0.53},
{"x":1.94,"y":0.46},{"x":2.12,"y":0.46},{"x":2.26,"y":0.46},{"x":2.4,"y":0.46},{"x":2.53,"y":0.46},{"x":2.66,"y":0.46},{"x":2.79,"y":0.46},{"x":2.93,"y":0.46},{"x":3.08,"y":0.46},
{"x":4.03,"y":2.33},{"x":4.97,"y":2.49},{"x":2.13,"y":2.57},{"x":2.21,"y":2.42},{"x":3.36,"y":3.3},{"x":3.29,"y":2.36},{"x":2.62,"y":2.25},{"x":3.45,"y":2.25},
{"x":2.16,"y":1.97},{"x":2.23,"y":1.93},{"x":2.27,"y":1.99},{"x":2.36,"y":1.91},{"x":2.41,"y":1.95},{"x":2.51,"y":1.98},{"x":2.55,"y":1.92},{"x":2.64,"y":1.96},{"x":2.71,"y":1.9},{"x":2.76,"y":1.94},{"x":2.79,"y":1.97},{"x":2.85,"y":1.93},{"x":2.92,"y":1.99},{"x":2.96,"y":1.91},{"x":3.02,"y":1.95},
{"x":1.99,"y":1.87},{"x":2.06,"y":1.83},{"x":2.1,"y":1.89},{"x":2.14,"y":1.81},{"x":2.19,"y":1.85},{"x":2.23,"y":1.88},{"x":2.29,"y":1.82},{"x":2.33,"y":1.86},{"x":2.37,"y":1.8},{"x":2.44,"y":1.84},{"x":2.48,"y":1.87},{"x":2.53,"y":1.83},{"x":2.57,"y":1.89},{"x":2.6,"y":1.81},{"x":2.63,"y":1.85},{"x":2.7,"y":1.88},{"x":2.74,"y":1.82},{"x":2.78,"y":1.86},{"x":2.84,"y":1.8},{"x":2.87,"y":1.84},{"x":2.93,"y":1.87},{"x":3.0,"y":1.83},
{"x":1.96,"y":1.77},{"x":2.02,"y":1.73},{"x":2.07,"y":1.79},{"x":2.12,"y":1.71},{"x":2.16,"y":1.75},{"x":2.2,"y":1.78},{"x":2.24,"y":1.72},{"x":2.31,"y":1.76},{"x":2.34,"y":1.7},{"x":2.38,"y":1.74},{"x":2.42,"y":1.77},{"x":2.45,"y":1.73},{"x":2.51,"y":1.79},{"x":2.54,"y":1.71},{"x":2.59,"y":1.75},{"x":2.62,"y":1.78},{"x":2.67,"y":1.72},{"x":2.71,"y":1.76},{"x":2.75,"y":1.7},{"x":2.79,"y":1.74},{"x":2.84,"y":1.77},{"x":2.9,"y":1.73},{"x":2.95,"y":1.79},{"x":3.02,"y":1.71},
{"x":1.99,"y":1.67},{"x":2.04,"y":1.63},{"x":2.08,"y":1.69},{"x":2.13,"y":1.61},{"x":2.17,"y":1.65},{"x":2.21,"y":1.68},{"x":2.25,"y":1.62},{"x":2.28,"y":1.66},{"x":2.32,"y":1.6},{"x":2.36,"y":1.64},{"x":2.39,"y":1.67},{"x":2.43,"y":1.63},{"x":2.46,"y":1.69},{"x":2.5,"y":1.61},{"x":2.53,"y":1.65},{"x":2.58,"y":1.68},{"x":2.64,"y":1.62},{"x":2.67,"y":1.66},{"x":2.72,"y":1.6},{"x":2.74,"y":1.64},{"x":2.81,"y":1.67},{"x":2.86,"y":1.63},{"x":2.91,"y":1.69},{"x":2.99,"y":1.61},
{"x":2.01,"y":1.57},{"x":2.06,"y":1.53},{"x":2.11,"y":1.59},{"x":2.15,"y":1.51},{"x":2.19,"y":1.55},{"x":2.23,"y":1.58},{"x":2.27,"y":1.52},{"x":2.31,"y":1.56},{"x":2.34,"y":1.5},{"x":2.38,"y":1.54},{"x":2.42,"y":1.57},{"x":2.45,"y":1.53},{"x":2.51,"y":1.59},{"x":2.55,"y":1.51},{"x":2.58,"y":1.55},{"x":2.61,"y":1.58},{"x":2.66,"y":1.52},{"x":2.73,"y":1.56},{"x":2.78,"y":1.5},{"x":2.82,"y":1.54},{"x":2.91,"y":1.57},{"x":2.98,"y":1.53},
{"x":1.99,"y":1.47},{"x":2.04,"y":1.43},{"x":2.08,"y":1.49},{"x":2.13,"y":1.41},{"x":2.17,"y":1.45},{"x":2.22,"y":1.48},{"x":2.26,"y":1.42},{"x":2.33,"y":1.46},{"x":2.37,"y":1.4},{"x":2.41,"y":1.44},{"x":2.47,"y":1.47},{"x":2.51,"y":1.43},{"x":2.54,"y":1.49},{"x":2.61,"y":1.41},{"x":2.65,"y":1.45},{"x":2.71,"y":1.48},{"x":2.78,"y":1.42},{"x":2.82,"y":1.46},{"x":2.89,"y":1.4},{"x":2.97,"y":1.44},
{"x":2.0,"y":1.37},{"x":2.05,"y":1.33},{"x":2.1,"y":1.39},{"x":2.14,"y":1.31},{"x":2.19,"y":1.35},{"x":2.23,"y":1.38},{"x":2.27,"y":1.32},{"x":2.31,"y":1.36},{"x":2.35,"y":1.3},{"x":2.39,"y":1.34},{"x":2.47,"y":1.37},{"x":2.5,"y":1.33},{"x":2.54,"y":1.39},{"x":2.58,"y":1.31},{"x":2.62,"y":1.35},{"x":2.69,"y":1.38},{"x":2.77,"y":1.32},{"x":2.86,"y":1.36},
{"x":2.01,"y":1.27},{"x":2.07,"y":1.23},{"x":2.13,"y":1.29},{"x":2.18,"y":1.21},{"x":2.23,"y":1.25},{"x":2.28,"y":1.28},{"x":2.32,"y":1.22},{"x":2.37,"y":1.26},{"x":2.41,"y":1.2},{"x":2.49,"y":1.24},{"x":2.54,"y":1.27},{"x":2.63,"y":1.23},{"x":2.71,"y":1.29},{"x":2.8,"y":1.21},{"x":2.89,"y":1.25},
{"x":2.07,"y":1.17},{"x":2.13,"y":1.13},{"x":2.19,"y":1.19},{"x":2.24,"y":1.11},{"x":2.3,"y":1.15},{"x":2.35,"y":1.18},{"x":2.4,"y":1.12},{"x":2.48,"y":1.16},{"x":2.59,"y":1.1},{"x":2.68,"y":1.14},{"x":2.77,"y":1.17},{"x":2.93,"y":1.13},
{"x":2.13,"y":1.07},{"x":2.26,"y":1.03},{"x":2.37,"y":1.09},{"x":2.48,"y":1.01},{"x":2.58,"y":1.05},{"x":2.69,"y":1.08},{"x":2.8,"y":1.02},{"x":2.91,"y":1.06}
]
},
"hconcat": [
{
"width": 488, "height": 476,
"title": {"text": "Reactor 1", "dx": -42},
"encoding": {
  "x": {"field": "x", "type": "quantitative", "scale": {"domain": [0.393, 5.5], "nice": false, "zero": false},
        "axis": {"title": "FSC", "titleX": 299, "titleY": 27, "titleBaseline": "alphabetic", "titleAlign": "center", "labelOffset": 7, "labelPadding": 6,
                 "values": [0.477,0.602,0.699,0.778,0.845,0.903,0.954,1,1.301,1.477,1.602,1.699,1.778,1.845,1.903,1.954,2,2.301,2.477,2.602,2.699,2.778,2.845,2.903,2.954,3,3.301,3.477,3.602,3.699,3.778,3.845,3.903,3.954,4,4.301,4.477,4.602,4.699,4.778,4.845,4.903,4.954,5,5.301,5.477],
                 "labelExpr": "datum.value == 1 ? '10¹' : datum.value == 2 ? '10²' : datum.value == 3 ? '10³' : datum.value == 4 ? '10⁴' : datum.value == 5 ? '10⁵' : ''"}},
  "y": {"field": "y", "type": "quantitative", "scale": {"domain": [0.41, 5.44], "nice": false, "zero": false},
        "axis": {"title": "V450", "titlePadding": 2, "labelPadding": 2,
                 "values": [0.477,0.602,0.699,0.778,0.845,0.903,0.954,1,1.301,1.477,1.602,1.699,1.778,1.845,1.903,1.954,2,2.301,2.477,2.602,2.699,2.778,2.845,2.903,2.954,3,3.301,3.477,3.602,3.699,3.778,3.845,3.903,3.954,4,4.301,4.477,4.602,4.699,4.778,4.845,4.903,4.954,5,5.301],
                 "labelExpr": "datum.value == 1 ? '10¹' : datum.value == 2 ? '10²' : datum.value == 3 ? '10³' : datum.value == 4 ? '10⁴' : datum.value == 5 ? '10⁵' : ''"}}
},
"layer": [
  {"data": {"name": "l1"}, "transform": [{"filter": "datum.k == 'sparse'"}], "mark": {"type": "rule", "color": "#6f78e8", "strokeWidth": 1.5, "strokeDash": [1, 2]}, "encoding": {"x2": {"field": "x2"}, "y2": {"field": "y2"}}},
  {"data": {"name": "l1"}, "transform": [{"filter": "datum.k == 'dense'"}], "mark": {"type": "rule", "color": "#6470e6", "strokeWidth": 2}, "encoding": {"x2": {"field": "x2"}, "y2": {"field": "y2"}}},
  {"data": {"name": "p1"}, "mark": {"type": "square", "size": 7, "color": "#3030dc", "opacity": 0.65}},
  {"data": {"name": "g1"}, "mark": {"type": "rect", "fill": null, "filled": false, "stroke": "#e5806b", "strokeWidth": 2}, "encoding": {"x2": {"field": "x2"}, "y2": {"field": "y2"}}},
  {"data": {"name": "g1"}, "mark": {"type": "text", "text": "F", "align": "left", "baseline": "alphabetic", "dx": 3, "dy": -6, "fontSize": 20, "font": "Liberation Sans", "color": "#000000"}},
  {"data": {"name": "g1"}, "mark": {"type": "text", "text": "420", "align": "left", "baseline": "alphabetic", "dx": 15, "dy": -4, "fontSize": 14, "font": "Liberation Sans", "color": "#000000"}}
]
},
{
"width": 482, "height": 476,
"title": {"text": "Reactor 2", "dx": -39},
"encoding": {
  "x": {"field": "x", "type": "quantitative", "scale": {"domain": [0.4, 5.47], "nice": false, "zero": false},
        "axis": {"title": "FSC", "titleX": 300, "titleY": 27, "titleBaseline": "alphabetic", "titleAlign": "center", "labelOffset": 7, "labelPadding": 6,
                 "values": [0.477,0.602,0.699,0.778,0.845,0.903,0.954,1,1.301,1.477,1.602,1.699,1.778,1.845,1.903,1.954,2,2.301,2.477,2.602,2.699,2.778,2.845,2.903,2.954,3,3.301,3.477,3.602,3.699,3.778,3.845,3.903,3.954,4,4.301,4.477,4.602,4.699,4.778,4.845,4.903,4.954,5,5.301],
                 "labelExpr": "datum.value == 1 ? '10¹' : datum.value == 2 ? '10²' : datum.value == 3 ? '10³' : datum.value == 4 ? '10⁴' : datum.value == 5 ? '10⁵' : ''"}},
  "y": {"field": "y", "type": "quantitative", "scale": {"domain": [0.33, 5.39], "nice": false, "zero": false},
        "axis": {"title": "V450", "titlePadding": 2, "labelPadding": 2,
                 "values": [0.477,0.602,0.699,0.778,0.845,0.903,0.954,1,1.301,1.477,1.602,1.699,1.778,1.845,1.903,1.954,2,2.301,2.477,2.602,2.699,2.778,2.845,2.903,2.954,3,3.301,3.477,3.602,3.699,3.778,3.845,3.903,3.954,4,4.301,4.477,4.602,4.699,4.778,4.845,4.903,4.954,5,5.301],
                 "labelExpr": "datum.value == 1 ? '10¹' : datum.value == 2 ? '10²' : datum.value == 3 ? '10³' : datum.value == 4 ? '10⁴' : datum.value == 5 ? '10⁵' : ''"}}
},
"layer": [
  {"data": {"name": "l2"}, "transform": [{"filter": "datum.k == 'sparse'"}], "mark": {"type": "rule", "color": "#6f78e8", "strokeWidth": 1.5, "strokeDash": [1, 2]}, "encoding": {"x2": {"field": "x2"}, "y2": {"field": "y2"}}},
  {"data": {"name": "l2"}, "transform": [{"filter": "datum.k == 'dense'"}], "mark": {"type": "rule", "color": "#6470e6", "strokeWidth": 2}, "encoding": {"x2": {"field": "x2"}, "y2": {"field": "y2"}}},
  {"data": {"name": "p2"}, "mark": {"type": "square", "size": 7, "color": "#3030dc", "opacity": 0.65}},
  {"data": {"name": "g2"}, "mark": {"type": "rect", "fill": null, "filled": false, "stroke": "#e5806b", "strokeWidth": 2}, "encoding": {"x2": {"field": "x2"}, "y2": {"field": "y2"}}},
  {"data": {"name": "g2"}, "mark": {"type": "text", "text": "F", "align": "left", "baseline": "alphabetic", "dx": 4, "dy": -6, "fontSize": 20, "font": "Liberation Sans", "color": "#000000"}},
  {"data": {"name": "g2"}, "mark": {"type": "text", "text": "420", "align": "left", "baseline": "alphabetic", "dx": 16, "dy": -1, "fontSize": 14, "font": "Liberation Sans", "color": "#000000"}}
]
}
]
}
